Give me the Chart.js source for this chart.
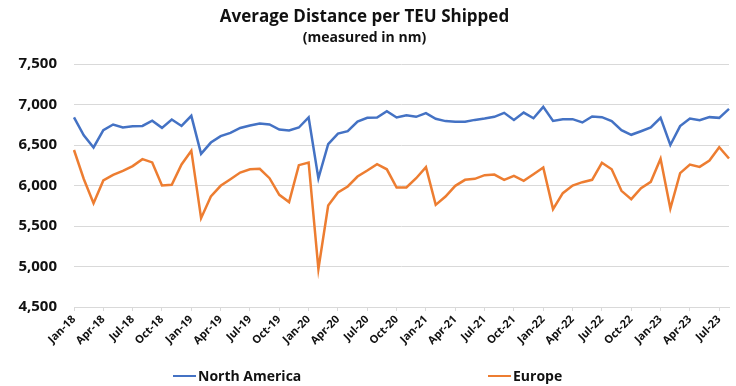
<!DOCTYPE html>
<html>
<head>
<meta charset="utf-8">
<script src="https://cdn.jsdelivr.net/npm/chart.js@4.4.1/dist/chart.umd.min.js"></script>
<style>
  html, body { margin: 0; padding: 0; background: #ffffff; }
  #wrap { position: relative; width: 736px; height: 386px; overflow: hidden; }
  #legend { position: absolute; left: 0; top: 367px; width: 736px; height: 18px;
            font-family: "Open Sans", "Noto Sans", sans-serif; font-weight: bold; font-size: 14px; color: #111; }
  .item { position: absolute; top: 0; height: 18px; line-height: 18px; white-space: nowrap; }
  .item .ln { display: inline-block; width: 23px; height: 2px; vertical-align: middle; margin-right: 2px; position: relative; top: -1px; }
</style>
</head>
<body>
<div id="wrap">
  <canvas id="c" width="736" height="386"></canvas>
  <div id="legend"></div>
</div>
<script>
const categories = [
  "Jan-18","Feb-18","Mar-18","Apr-18","May-18","Jun-18","Jul-18","Aug-18","Sep-18","Oct-18","Nov-18","Dec-18",
  "Jan-19","Feb-19","Mar-19","Apr-19","May-19","Jun-19","Jul-19","Aug-19","Sep-19","Oct-19","Nov-19","Dec-19",
  "Jan-20","Feb-20","Mar-20","Apr-20","May-20","Jun-20","Jul-20","Aug-20","Sep-20","Oct-20","Nov-20","Dec-20",
  "Jan-21","Feb-21","Mar-21","Apr-21","May-21","Jun-21","Jul-21","Aug-21","Sep-21","Oct-21","Nov-21","Dec-21",
  "Jan-22","Feb-22","Mar-22","Apr-22","May-22","Jun-22","Jul-22","Aug-22","Sep-22","Oct-22","Nov-22","Dec-22",
  "Jan-23","Feb-23","Mar-23","Apr-23","May-23","Jun-23","Jul-23","Aug-23"
];
const northAmerica = [
  6840, 6620, 6470, 6683, 6753, 6716, 6730, 6735, 6800, 6712, 6815, 6735,
  6860, 6390, 6530, 6610, 6650, 6710, 6740, 6765, 6753, 6690, 6680, 6716,
  6840, 6088, 6510, 6640, 6670, 6790, 6835, 6840, 6918, 6840, 6868, 6848,
  6893, 6823, 6795, 6786, 6786, 6810, 6826, 6848, 6897, 6810, 6900, 6830,
  6971, 6798, 6819, 6819, 6778, 6852, 6844, 6795, 6683, 6626, 6670, 6716,
  6835, 6500, 6733, 6827, 6807, 6844, 6835, 6946
];
const europe = [
  6438, 6080, 5782, 6062, 6130, 6180, 6240, 6325, 6285, 6000, 6008, 6260,
  6430, 5597, 5865, 5996, 6078, 6160, 6200, 6206, 6090, 5885, 5795, 6251,
  6284, 4970, 5753, 5913, 5988, 6111, 6185, 6263, 6200, 5975, 5975, 6090,
  6226, 5761, 5864, 5996, 6070, 6082, 6128, 6135, 6070, 6119, 6058, 6140,
  6222, 5708, 5905, 6000, 6041, 6070, 6280, 6200, 5934, 5831, 5967, 6045,
  6329, 5716, 6152, 6259, 6230, 6308, 6472, 6333
];
const seriesNames = ["North America", "Europe"];
const yTicks = [4500, 5000, 5500, 6000, 6500, 7000, 7500];
const titleText = "Average Distance per TEU Shipped";
const subtitleText = "(measured in nm)";

const colors = ["#4472C4", "#ED7D31"];
const FONT = '"Open Sans", "Noto Sans", sans-serif';

const chart = new Chart(document.getElementById('c'), {
  type: 'line',
  data: {
    labels: categories,
    datasets: [
      { label: seriesNames[0], data: northAmerica, borderColor: colors[0], backgroundColor: colors[0],
        borderWidth: 2.5, pointRadius: 0, tension: 0, fill: false },
      { label: seriesNames[1], data: europe, borderColor: colors[1], backgroundColor: colors[1],
        borderWidth: 2.5, pointRadius: 0, tension: 0, fill: false }
    ]
  },
  options: {
    responsive: false,
    animation: false,
    devicePixelRatio: 1,
    layout: { padding: { left: 0, right: 7, top: 0, bottom: 0 } },
    plugins: {
      legend: { display: false },
      tooltip: { enabled: false },
      title: {
        display: true, text: titleText, color: '#111',
        font: { family: FONT, size: 17, weight: 'bold', lineHeight: 1.2 },
        padding: { top: 7, bottom: 0 }
      },
      subtitle: {
        display: true, text: subtitleText, color: '#111',
        font: { family: FONT, size: 14, weight: 'bold', lineHeight: 1.2 },
        padding: { top: 2.2, bottom: 17.6 }
      }
    },
    scales: {
      x: {
        offset: false,
        grid: { display: true, drawOnChartArea: false, drawTicks: true, tickLength: 4, color: '#d9d9d9' },
        border: { display: true, color: '#d9d9d9', width: 1 },
        ticks: {
          autoSkip: false, maxRotation: 45, minRotation: 45, padding: 2, color: '#111',
          font: { family: FONT, size: 11, weight: 'bold' },
          callback: function(val, idx) { return idx % 3 === 0 ? categories[idx] : null; }
        },
        afterFit: function(scale) { scale.height = 79; }
      },
      y: {
        min: yTicks[0], max: yTicks[yTicks.length - 1],
        grid: { color: '#d9d9d9', drawTicks: false, lineWidth: 1 },
        border: { display: false },
        afterBuildTicks: function(scale) { scale.ticks = yTicks.map(v => ({ value: v })); },
        ticks: {
          padding: 17, color: '#111',
          font: { family: FONT, size: 15, weight: 'bold' },
          callback: function(v) { return Number(v).toLocaleString('en-US'); }
        },
        afterFit: function(scale) { scale.width = 74; }
      }
    }
  }
});

// HTML legend built from the datasets
const legend = document.getElementById('legend');
const positions = [173, 488];
chart.data.datasets.forEach((ds, i) => {
  const it = document.createElement('div');
  it.className = 'item';
  it.style.left = positions[i] + 'px';
  const ln = document.createElement('span');
  ln.className = 'ln';
  ln.style.background = ds.borderColor;
  it.appendChild(ln);
  it.appendChild(document.createTextNode(ds.label));
  legend.appendChild(it);
});
</script>
</body>
</html>
